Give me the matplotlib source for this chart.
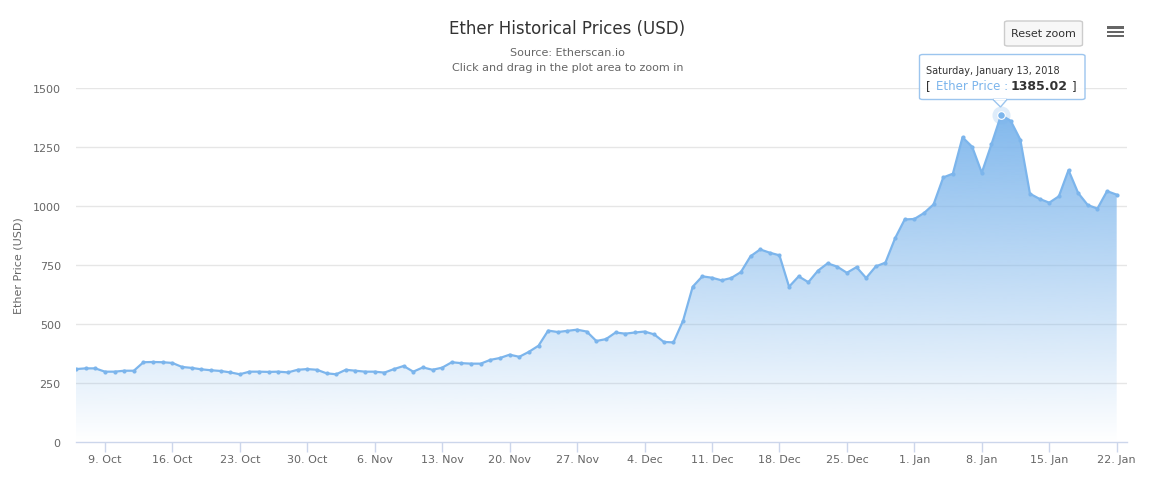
import matplotlib
matplotlib.use("Agg")
import matplotlib.pyplot as plt
import matplotlib.dates as mdates
import numpy as np
import pandas as pd
from matplotlib.patches import FancyBboxPatch, Polygon, Circle, Rectangle

# ---------------- data ----------------
start_date = "2017-10-06"
end_date = "2018-01-22"
prices = [
    309, 312, 312, 298, 298, 302, 302, 338, 339, 338,
    335, 318, 314, 308, 304, 301, 295, 287, 298, 298,
    297, 298, 295, 306, 309, 306, 291, 287, 306, 302,
    298, 298, 294, 309, 322, 298, 316, 306, 315, 338,
    334, 332, 332, 348, 356, 370, 361, 382, 408, 472,
    466, 471, 476, 468, 428, 436, 464, 459, 464, 468,
    456, 424, 422, 514, 658, 702, 696, 685, 695, 720,
    787, 816, 802, 791, 658, 702, 677, 726, 757, 743,
    717, 741, 695, 744, 760, 863, 943, 945, 970, 1007,
    1121, 1137, 1291, 1251, 1141, 1261, 1385.02, 1361, 1281, 1052,
    1030, 1014, 1041, 1152, 1055, 1004, 989, 1063, 1048,
]
tick_dates = ["2017-10-09", "2017-10-16", "2017-10-23", "2017-10-30", "2017-11-06",
              "2017-11-13", "2017-11-20", "2017-11-27", "2017-12-04", "2017-12-11",
              "2017-12-18", "2017-12-25", "2018-01-01", "2018-01-08", "2018-01-15",
              "2018-01-22"]
tick_labels = ["9. Oct", "16. Oct", "23. Oct", "30. Oct", "6. Nov", "13. Nov",
               "20. Nov", "27. Nov", "4. Dec", "11. Dec", "18. Dec", "25. Dec",
               "1. Jan", "8. Jan", "15. Jan", "22. Jan"]
y_ticks = [0, 250, 500, 750, 1000, 1250, 1500]
highlight_index = 96
tooltip_date = "Saturday, January 13, 2018"
tooltip_series = "Ether Price"

dates = pd.date_range(start_date, end_date, freq="D")
x = mdates.date2num(dates)
y = np.array(prices, dtype=float)

# ---------------- figure ----------------
W, H = 1152, 489
plt.rcParams["font.family"] = ["DejaVu Sans"]
fig = plt.figure(figsize=(W / 100, H / 100), dpi=100)
fig.patch.set_facecolor("white")


def fx(px):
    return px / W


def fy(py):
    return 1 - py / H


ax = fig.add_axes([fx(76), fy(443), fx(1127) - fx(76), fy(89) - fy(443)])
ax.set_facecolor("white")

LINE = "#7cb5ec"

ax.set_xlim(x[0], x[0] + 109.07)
ax.set_ylim(0, 1500)

# gridlines
for v in y_ticks[1:]:
    ax.axhline(v, color="#e6e6e6", lw=1, zorder=0)

# gradient fill under the line
verts = [(x[0], 0)] + list(zip(x, y)) + [(x[-1], 0)]
poly = Polygon(verts, closed=True, facecolor="none", edgecolor="none")
ax.add_patch(poly)
ymax = y.max()
grad = np.zeros((256, 1, 4))
rgb = np.array([124, 181, 236]) / 255.0
grad[:, 0, :3] = rgb
grad[:, 0, 3] = np.linspace(1.0, 0.0, 256) * 0.95
im = ax.imshow(grad, aspect="auto", extent=[x[0], x[-1], 0, ymax],
               origin="upper", zorder=1, interpolation="bicubic")
im.set_clip_path(poly)

ax.plot(x, y, color=LINE, lw=1.6, zorder=3, solid_joinstyle="round")
ax.plot(x, y, "o", color=LINE, ms=3.0, mew=0, zorder=4)

# highlighted point with halo
hx, hy = x[highlight_index], y[highlight_index]
ax.plot([hx], [hy], "o", color=LINE, ms=13, alpha=0.25, mew=0, zorder=4)
ax.plot([hx], [hy], "o", color=LINE, ms=5.5, mec="white", mew=0.8, zorder=5)

# axes styling
for s in ["top", "right", "left"]:
    ax.spines[s].set_visible(False)
ax.spines["bottom"].set_color("#ccd6eb")
ax.spines["bottom"].set_linewidth(1)

ax.set_yticks(y_ticks)
ax.set_yticklabels([str(v) for v in y_ticks])
ax.tick_params(axis="y", length=0, pad=11, labelsize=8, labelcolor="#666666")

ax.set_xticks(mdates.date2num(pd.to_datetime(tick_dates)))
ax.set_xticklabels(tick_labels)
ax.tick_params(axis="x", length=7, width=1, color="#ccd6eb", pad=2,
               labelsize=8, labelcolor="#666666")

fig.text(fx(19), fy(266), "Ether Price (USD)", rotation=90, ha="center",
         va="center", fontsize=8, color="#666666")

# titles
fig.text(fx(567.5), fy(28.5), "Ether Historical Prices (USD)", ha="center",
         va="center", fontsize=12, color="#333333")
fig.text(fx(567.5), fy(53), "Source: Etherscan.io", ha="center", va="center",
         fontsize=8, color="#666666")
fig.text(fx(567.5), fy(68), "Click and drag in the plot area to zoom in",
         ha="center", va="center", fontsize=8, color="#666666")

# reset zoom button
btn = FancyBboxPatch((fx(1004.5), fy(47)), fx(1082.5) - fx(1004.5), fy(22) - fy(47),
                     boxstyle="round,pad=0,rounding_size=0.003",
                     transform=fig.transFigure, facecolor="#f7f7f7",
                     edgecolor="#cccccc", lw=1, zorder=10)
fig.patches.append(btn)
fig.text(fx(1043.5), fy(34), "Reset zoom", ha="center", va="center",
         fontsize=8, color="#333333", zorder=11)

# hamburger menu
for py in (28.3, 32.7, 37.0):
    r = Rectangle((fx(1107), fy(py + 1.2)), fx(1124) - fx(1107), fy(py - 1.2) - fy(py + 1.2),
                  transform=fig.transFigure, facecolor="#666666", edgecolor="none",
                  zorder=10)
    fig.patches.append(r)

# tooltip
tip = FancyBboxPatch((fx(919.5), fy(100.5)), fx(1085) - fx(919.5), fy(55.5) - fy(100.5),
                     boxstyle="round,pad=0,rounding_size=0.003",
                     transform=fig.transFigure, facecolor=(1, 1, 1, 0.92),
                     edgecolor="#9cc5ee", lw=1, zorder=20)
fig.patches.append(tip)
pointer = Polygon([(fx(993), fy(100.5)), (fx(1007), fy(100.5)), (fx(1000.5), fy(108))],
                  closed=True, transform=fig.transFigure, facecolor=(1, 1, 1, 0.92),
                  edgecolor="#9cc5ee", lw=1, zorder=20)
fig.patches.append(pointer)
cover = Rectangle((fx(993.8), fy(101.3)), fx(1006.2) - fx(993.8), fy(99.5) - fy(101.3),
                  transform=fig.transFigure, facecolor="white", edgecolor="none", zorder=21)
fig.patches.append(cover)

fig.text(fx(926), fy(71.5), tooltip_date, ha="left", va="center", fontsize=7,
         color="#333333", zorder=22)
fig.text(fx(926), fy(86.5), "[", ha="left", va="center", fontsize=8.5,
         color="#333333", zorder=22)
fig.text(fx(935.5), fy(86.5), tooltip_series + " :", ha="left", va="center",
         fontsize=8.5, color=LINE, zorder=22)
fig.text(fx(1010.5), fy(86.5), f"{y[highlight_index]:.2f}", ha="left", va="center",
         fontsize=9, fontweight="bold", color="#333333", zorder=22)
fig.text(fx(1071.5), fy(86.5), "]", ha="left", va="center", fontsize=8.5,
         color="#333333", zorder=22)

fig.savefig("out.png", dpi=100, facecolor="white")
